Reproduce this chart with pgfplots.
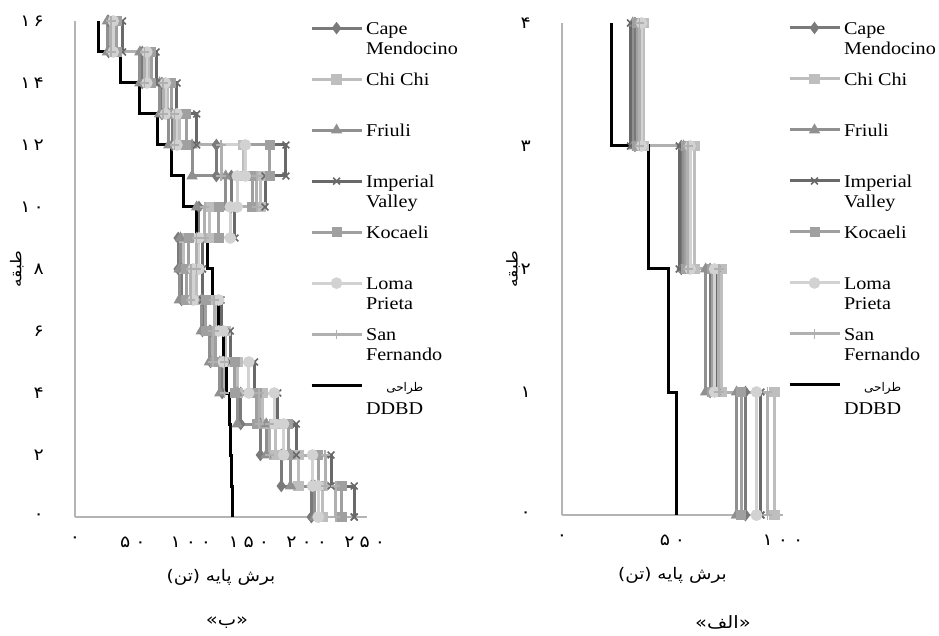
\documentclass[border=0pt]{standalone}
\usepackage{fontspec}
\usepackage{pgfplots}
\usepackage{pgfplotstable}
\pgfplotsset{compat=1.18}
\TeXXeTstate=1
\newfontfamily\fa[Script=Arabic]{DejaVu Sans}
\newfontfamily\fas[Script=Arabic,FakeStretch=1.15]{DejaVu Sans}
\newfontfamily\lf[FakeStretch=1.12]{Liberation Serif}
\definecolor{cCM}{HTML}{7A7A7A}
\definecolor{cCC}{HTML}{BEBEBE}
\definecolor{cFr}{HTML}{909090}
\definecolor{cIV}{HTML}{696969}
\definecolor{cKo}{HTML}{A0A0A0}
\definecolor{cLP}{HTML}{D2D2D2}
\definecolor{cSF}{HTML}{B0B0B0}
\definecolor{axgray}{HTML}{B4B4B4}

\newcommand{\pd}[1]{{\fas\fontsize{16.5}{17}\selectfont #1}}
\newcommand{\leg}[1]{\parbox[t]{4cm}{\lf\fontsize{18}{20}\selectfont #1}}

% story shear, left: 16 stories; right: 4 stories (last row repeats storey 1 at floor 0)
\pgfplotstableread{
f   CM   CC   Fr   IV   Ko   LP   SF   DD
16  29   34   28   41   36   33   31   20
15  58   64   56   70   66   62   60   39
14  75   80   73   88   83   78   76   56
13  84   90   81   105  96   88   86   71
12  122  145  101  182  168  147  126  83
11  135  160  130  164  153  140  157  94
10  107  116  105  138  124  134  112  105
9   89   94   91   110  98   107  105  114
8   92   105  90   110  96   102  100  119
7   110  122  109  126  113  124  120  124
6   117  130  116  134  121  128  119  128
5   127  140  125  155  138  150  129  131
4   143  162  140  175  157  172  159  133.5
3   160  173  165  191  184  180  168  134.5
2   178  193  186  221  210  205  216  135
1   204  214  207  241  230  210  225  136
0   204  214  207  241  230  210  225  136
}\leftdata

\pgfplotstableread{
f   CM   CC   Fr   IV   Ko   LP   SF   DD
4   33   37   32   31   34   36   35   22.6
3   54   60   55   53   56   58   57   39
2   67   72   65   70   68   69   71   48
1   83   96   79   90   81   88   93   51.6
0   83   96   79   90   81   88   93   51.6
}\rightdata

\newcommand{\ser}[7]{%
\addplot[const plot mark right, draw=#3, line width=3pt, mark=#4, mark size=#7, mark options={solid, fill=#3, draw=#3, line width=1.6pt}] table[x=#2,y=f]{#1};
\addlegendentry{#6}
\addplot[forget plot, only marks, mark=#4, mark size=#7, mark options={solid, fill=#3, draw=#3, line width=1.6pt}, skip coords between index=#5] table[x=#2,y expr=\thisrow{f}-1]{#1};
}

\pgfplotsset{
  panel/.style={
    scale only axis,
    axis x line*=bottom, axis y line*=left,
    axis line style={axgray, line width=1.3pt, -},
    major tick length=0pt,
    ymin=0, xmin=0,
    xticklabel style={inner sep=0pt, anchor=north, yshift=-20pt},
    yticklabel style={inner sep=0pt, anchor=east, xshift=-31pt},
    every axis x label/.style={at={(axis description cs:0.5,0)}, anchor=center, yshift=-60pt},
    legend cell align=left,
    legend style={draw=none, fill=none, anchor=north west, inner sep=0pt, outer sep=0pt, row sep=0pt,
      nodes={inner xsep=3pt, inner ysep=0pt, anchor=west, text height=32pt, text depth=19pt}},
    legend image code/.code={\draw[mark repeat=2,mark phase=2,##1] plot coordinates {(0pt,0pt)(25pt,0pt)(50pt,0pt)};},
  }
}

\begin{document}
\begin{tikzpicture}
\path[use as bounding box] (0,0) rectangle (939pt,635pt);

% ---------- left panel (b) ----------
\begin{axis}[panel,
  at={(75pt,118pt)}, anchor=south west,
  width=292pt, height=496pt,
  xmax=252, ymax=16,
  xtick={0,50,100,150,200,250},
  xticklabels={\pd{۰},\pd{۵\hspace{5pt}۰},\pd{۱\hspace{5pt}۰\hspace{5pt}۰},\pd{۱\hspace{5pt}۵\hspace{5pt}۰},\pd{۲\hspace{5pt}۰\hspace{5pt}۰},\pd{۲\hspace{5pt}۵\hspace{5pt}۰}},
  ytick={0,2,4,6,8,10,12,14,16},
  yticklabels={\pd{۰},\pd{۲},\pd{۴},\pd{۶},\pd{۸},\pd{۱\hspace{3pt}۰},\pd{۱\hspace{3pt}۲},\pd{۱\hspace{3pt}۴},\pd{۱\hspace{3pt}۶}},
  xlabel={\fas\fontsize{16}{17}\selectfont\beginR برش پایه (تن)\endR},
  ylabel={\fas\fontsize{15}{16}\selectfont\beginR طبقه\endR},
  every axis y label/.style={at={(axis description cs:-0.199,0.5)}, rotate=90, anchor=center},
  legend style={at={(0.805,1.037)}},
]
\ser{\leftdata}{CM}{cCM}{diamond*}{{16}{17}}{\leg{Cape\\Mendocino}}{5pt}
\ser{\leftdata}{CC}{cCC}{square*}{{16}{17}}{\leg{Chi Chi}}{4.6pt}
\ser{\leftdata}{Fr}{cFr}{triangle*}{{16}{17}}{\leg{Friuli}}{5pt}
\ser{\leftdata}{IV}{cIV}{x}{{16}{17}}{\leg{Imperial\\Valley}}{4.8pt}
\ser{\leftdata}{Ko}{cKo}{square*}{{16}{17}}{\leg{Kocaeli}}{4.2pt}
\ser{\leftdata}{LP}{cLP}{*}{{16}{17}}{\leg{Loma\\Prieta}}{5pt}
\ser{\leftdata}{SF}{cSF}{+}{{16}{17}}{\leg{San\\Fernando}}{4.6pt}
\addplot[const plot mark right, draw=black, line width=3pt, no marks] table[x=DD,y=f]{\leftdata};
\addlegendentry{\leg{\begin{tabular}[t]{@{}r@{}}{\fa\fontsize{12}{13}\selectfont\beginR طراحی\endR}\\[3pt] DDBD\end{tabular}}}
\end{axis}

% ---------- right panel (alef) ----------
\begin{axis}[panel,
  at={(562pt,120pt)}, anchor=south west,
  width=221pt, height=492pt,
  xmax=100, ymax=4,
  xtick={0,50,100},
  xticklabels={\pd{۰},\pd{۵\hspace{5pt}۰},\pd{۱\hspace{5pt}۰\hspace{5pt}۰}},
  ytick={0,1,2,3,4},
  yticklabels={\pd{۰},\pd{۱},\pd{۲},\pd{۳},\pd{۴}},
  xlabel={\fas\fontsize{16}{17}\selectfont\beginR برش پایه (تن)\endR},
  ylabel={\fas\fontsize{15}{16}\selectfont\beginR طبقه\endR},
  every axis y label/.style={at={(axis description cs:-0.222,0.5)}, rotate=90, anchor=center},
  legend style={at={(1.0226,1.0417)}},
]
\ser{\rightdata}{CM}{cCM}{diamond*}{{4}{5}}{\leg{Cape\\Mendocino}}{5pt}
\ser{\rightdata}{CC}{cCC}{square*}{{4}{5}}{\leg{Chi Chi}}{4.6pt}
\ser{\rightdata}{Fr}{cFr}{triangle*}{{4}{5}}{\leg{Friuli}}{5pt}
\ser{\rightdata}{IV}{cIV}{x}{{4}{5}}{\leg{Imperial\\Valley}}{4.8pt}
\ser{\rightdata}{Ko}{cKo}{square*}{{4}{5}}{\leg{Kocaeli}}{4.2pt}
\ser{\rightdata}{LP}{cLP}{*}{{4}{5}}{\leg{Loma\\Prieta}}{5pt}
\ser{\rightdata}{SF}{cSF}{+}{{4}{5}}{\leg{San\\Fernando}}{4.6pt}
\addplot[const plot mark right, draw=black, line width=3pt, no marks] table[x=DD,y=f]{\rightdata};
\addlegendentry{\leg{\begin{tabular}[t]{@{}r@{}}{\fa\fontsize{12}{13}\selectfont\beginR طراحی\endR}\\[3pt] DDBD\end{tabular}}}
\end{axis}

\node[anchor=center] at (227pt,12pt) {\fas\fontsize{17}{18}\selectfont\beginR «ب»\endR};
\node[anchor=center] at (723pt,13pt) {\fas\fontsize{17}{18}\selectfont\beginR «الف»\endR};
\end{tikzpicture}
\end{document}
